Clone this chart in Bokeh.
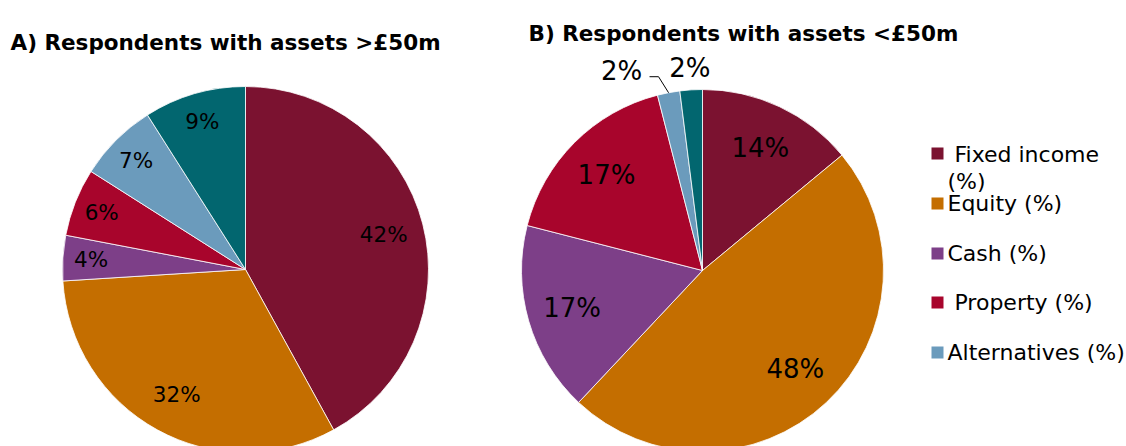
import numpy as np
from bokeh.plotting import figure
from bokeh.models import Range1d, ColumnDataSource
from bokeh.core.properties import value
from bokeh.embed import file_html
from bokeh.resources import INLINE

# ---- data ----
categories = ["Fixed income (%)", "Equity (%)", "Cash (%)", "Property (%)", "Alternatives (%)", "Other (%)"]
legend_labels = ["\u00a0Fixed income\n(%)", "Equity (%)", "Cash (%)", "\u00a0Property (%)", "Alternatives (%)"]
colors = ["#7B1230", "#C46E00", "#7D3F88", "#A8052C", "#6B9BBC", "#02666F"]
values_a = [42, 32, 4, 6, 7, 9]
values_b = [14, 48, 17, 17, 2, 2]
title_a = "A) Respondents with assets >£50m"
title_b = "B) Respondents with assets <£50m"

W, H = 1126, 446
def X(sx):
    return sx
def Y(sy):
    return H - sy

p = figure(width=W, height=H, x_range=Range1d(0, W), y_range=Range1d(0, H),
           output_backend="svg", toolbar_location=None,
           x_axis_location=None, y_axis_location=None, min_border=0)
p.grid.visible = False
p.outline_line_color = None
p.background_fill_color = "white"
p.border_fill_color = "white"

FONT = value("DejaVu Sans")

def pie(vals, cx, cy, r, frac_big, frac_small, fs, outside=None):
    v = np.array(vals, dtype=float)
    frac = v / v.sum()
    cum = np.concatenate([[0], np.cumsum(frac)])
    start = np.pi / 2 - 2 * np.pi * cum[:-1]
    end = np.pi / 2 - 2 * np.pi * cum[1:]
    src = ColumnDataSource(dict(x=[X(cx)] * len(v), y=[Y(cy)] * len(v),
                                s=start, e=end, c=colors[:len(v)]))
    p.wedge(x="x", y="y", radius=r, start_angle="s", end_angle="e", direction="clock",
            fill_color="c", line_color="white", line_width=0.8, source=src)
    mid = 2 * np.pi * (cum[:-1] + cum[1:]) / 2  # clockwise from top
    ux, uy = np.sin(mid), np.cos(mid)
    lx, ly, lt = [], [], []
    for i, val in enumerate(vals):
        d = (frac_big if frac[i] >= 0.2 else frac_small) * r
        dx = 0
        if outside is not None and i in outside:
            d = 1.12 * r
            dx = outside[i]
        lx.append(X(cx) + ux[i] * d + dx)
        ly.append(Y(cy) + uy[i] * d)
        lt.append(f"{val}%")
    p.text(x=lx, y=ly, text=lt, text_font=FONT, text_font_size=f"{fs}px",
           text_align="center", text_baseline="middle", text_color="black")
    return ux, uy

# Pie A
pie(values_a, 245, 269, 183, 0.78, 0.845, 21.5)

# Pie B
cxb, cyb, rb = 702, 270, 181
ux, uy = pie(values_b, cxb, cyb, rb, 0.75, 0.75, 26, outside={4: -43, 5: 0})
# leader line for the alternatives label
i = 4
ex, ey = X(cxb) + ux[i] * rb, Y(cyb) + uy[i] * rb
kx, ky = X(cxb) + ux[i] * 1.09 * rb - 7, Y(cyb) + uy[i] * 1.09 * rb
p.line(x=[ex, kx, kx - 9], y=[ey, ky, ky], line_color="black", line_width=1)

# Titles
p.text(x=[X(10)], y=[Y(42)], text=[title_a], text_font=FONT, text_font_size="21.5px",
       text_font_style="bold", text_align="left", text_baseline="alphabetic", text_color="black")
p.text(x=[X(528)], y=[Y(33)], text=[title_b], text_font=FONT, text_font_size="21.5px",
       text_font_style="bold", text_align="left", text_baseline="alphabetic", text_color="black")

# Legend
leg_y = [153, 203, 253, 302, 352]
p.rect(x=[X(937)] * 5, y=[Y(v) for v in leg_y], width=12, height=12,
       width_units="screen", height_units="screen", fill_color=colors[:5], line_color=None)
p.text(x=[X(947)], y=[Y(leg_y[0]) + 12], text=[legend_labels[0]], text_font=FONT,
       text_font_size="22px", text_align="left", text_baseline="top", text_color="black",
       text_line_height=1.1)
p.text(x=[X(947)] * 4, y=[Y(v) for v in leg_y[1:]], text=legend_labels[1:], text_font=FONT,
       text_font_size="22px", text_align="left", text_baseline="middle", text_color="black")

open("out.html", "w").write(file_html(p, INLINE))
